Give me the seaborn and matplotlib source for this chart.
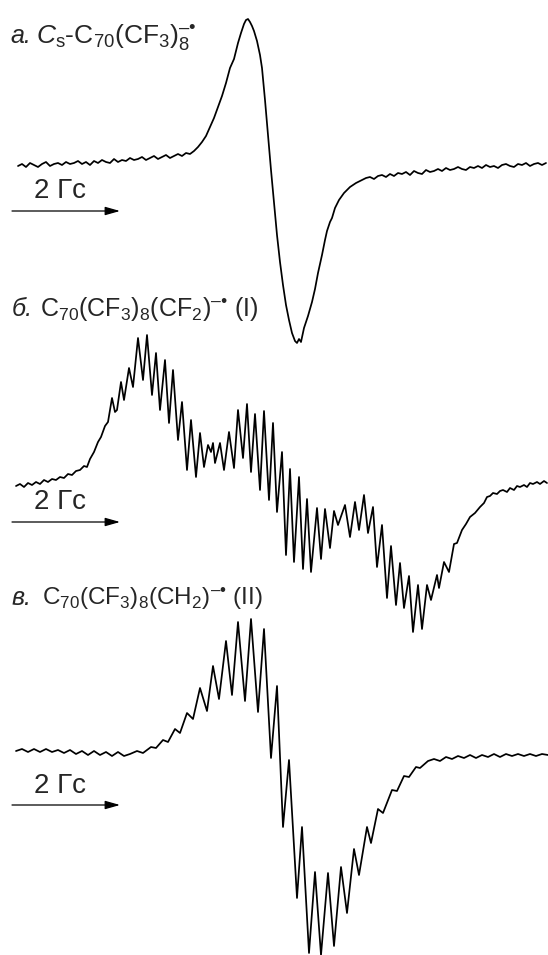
import numpy as np
import matplotlib
matplotlib.use("Agg")
import matplotlib.pyplot as plt
import seaborn as sns

# EPR spectra: sweep channel and signal (arb. units)
# scale bar: 108 channels = 2 G
a_chan = [18, 22, 26, 30, 34, 38, 42, 46, 50, 54, 58, 62, 66, 70, 74, 78, 82, 86, 90, 94,
          98, 102, 106, 110, 114, 118, 122, 126, 130, 134, 138, 142, 146, 150, 154, 158, 162,
          166, 170, 174, 178, 182, 186, 190, 194,
          198, 202, 206, 210, 214, 218, 222, 226, 230, 234, 238, 241, 244, 246, 248, 250, 252,
          254, 257, 260, 262, 265, 268, 271, 274, 277, 280, 283, 286, 289, 292, 295, 297, 299,
          301, 304, 308, 312, 315, 318, 322, 325, 327, 330, 332, 335, 339, 344, 350, 356, 362,
          366, 370, 374, 378, 382, 386, 390, 394, 398, 402, 406, 410, 414, 418, 422, 426, 430,
          434, 438, 442, 446, 450, 454, 458, 462, 466, 470, 474, 478, 482, 486, 490, 494, 498,
          502, 506, 510, 514, 518, 522, 526, 530, 534, 538, 542, 546]
a_sig = [-1, 1, -2, 2, 0, -2, 1, 3, -1, 1, 2, 0, 3, 1, 2, 4, 1, 3, 0, 4,
         2, 5, 3, 2, 6, 3, 5, 4, 7, 5, 6, 8, 5, 7, 9, 6, 8,
         10, 7, 9, 11, 9, 12, 11, 14,
         18, 23, 29, 38, 47, 58, 69, 82, 97, 106, 122, 132, 141, 145, 146, 143, 139,
         134, 124, 110, 97, 65, 30, -5, -38, -70, -97, -120, -140, -155, -168, -176, -178, -174,
         -177, -163, -151, -137, -124, -108, -90, -75, -66, -57, -53, -43, -35, -28, -22, -18, -15,
         -13, -12, -14, -11, -10, -12, -9, -11, -8, -9, -7, -10, -6, -8, -9, -5, -7,
         -6, -4, -6, -3, -5, -4, -2, -4, -5, -2, -3, -1, -3, 0, -2, -1, -3,
         0, 1, -1, -2, 1, 0, 2, -1, 1, 2, 0, 2]

b_chan = [16, 20, 24, 28, 32, 36, 40, 44, 48, 52, 56, 60, 64, 68, 72, 76, 80, 84, 87, 90,
          94, 98, 101, 105, 108, 112, 115, 117, 121, 124, 129, 133, 138, 143, 147, 152, 156,
          160, 165, 169, 173, 178, 182, 187, 191, 196, 200, 204, 208, 211, 213, 215, 220, 224,
          229, 234, 238, 243, 247, 251, 255, 260, 264, 269, 273, 277, 282, 286, 290, 294, 299,
          303, 307, 311, 317, 321, 325, 330, 334, 338, 345, 350, 355, 359, 364, 368, 373, 377,
          382, 387, 391, 396, 400, 404, 409, 413, 418, 422, 427, 431, 437, 439, 444, 449, 454,
          457, 462, 466, 470, 475, 480, 484, 487, 490, 493, 497, 500, 503, 507, 510, 514, 517,
          520, 524, 527, 530, 533, 537, 540, 544, 547]
b_sig = [0, 2, -1, 3, 1, 4, 2, 6, 4, 7, 6, 9, 8, 12, 11, 15, 16, 20, 19, 27,
         34, 44, 49, 60, 64, 88, 74, 76, 104, 86, 118, 99, 148, 106, 151, 91, 133,
         76, 126, 63, 116, 46, 84, 16, 66, 9, 53, 19, 41, 34, 43, 23, 43, 16,
         54, 18, 76, 28, 82, 14, 72, -4, 75, -14, 63, -26, 34, -69, 17, -76, 9,
         -83, -13, -86, -22, -73, -23, -62, -25, -39, -19, -51, -16, -44, -9, -47, -21, -81,
         -39, -112, -60, -119, -77, -122, -90, -146, -99, -143, -99, -114, -89, -102, -76, -86, -58,
         -57, -44, -38, -31, -27, -21, -17, -11, -10, -7, -8, -5, -4, -6, -2, -4, 0,
         -1, 1, -1, 3, 2, 4, 2, 5, 3]

c_chan = [16, 22, 28, 34, 40, 46, 52, 58, 64, 70, 76, 82, 88, 94, 100, 106, 112, 118, 124, 130,
          137, 143, 151, 156, 163, 168, 175, 180, 187, 193, 200, 207, 213, 219, 226, 232, 238,
          245, 251, 258, 264, 271, 277, 283, 289, 297, 302, 309, 315, 321, 328, 334, 341, 347,
          354, 359, 367, 371, 378, 383, 392, 397, 404, 409, 416, 420, 428, 434, 440, 446, 452,
          458, 464, 470, 476, 482, 488, 494, 500, 506, 512, 518, 524, 530, 536, 542, 548]
c_sig = [1, 3, 0, 3, 0, 3, 0, 2, -1, 2, -2, 1, -3, 1, -3, 0, -4, 0, -4, -2,
         1, -1, 5, 4, 12, 10, 23, 19, 39, 33, 64, 41, 86, 53, 111, 57, 130,
         51, 133, 40, 123, -6, 66, -75, -8, -146, -75, -201, -120, -203, -121, -194, -115, -161,
         -97, -123, -75, -91, -57, -61, -38, -39, -24, -25, -15, -16, -9, -7, -9, -5, -7,
         -4, -6, -3, -6, -3, -5, -2, -5, -2, -4, -2, -4, -2, -4, -2, -3]

panel_letters = ["а.", "б.", "в."]
panel_titles = [r"$\mathit{C}_{\mathrm{s}}$-C$_{70}$(CF$_3$)$_8^{–•}$",
                r"C$_{70}$(CF$_3$)$_8$(CF$_2$)$^{–•}$ (I)",
                r"C$_{70}$(CF$_3$)$_8$(CH$_2$)$^{–•}$ (II)"]
scale_label = "2 Гс"
SCALE_G = 2
GAUSS_PER_CHAN = 2 / 108
CHAN0 = 12


def to_gauss(ch):
    return (np.asarray(ch, dtype=float) - CHAN0) * GAUSS_PER_CHAN


sns.set_style("white")
plt.rcParams["font.family"] = ["Liberation Sans", "DejaVu Sans"]
plt.rcParams["mathtext.fontset"] = "custom"
plt.rcParams["mathtext.rm"] = "Liberation Sans"
plt.rcParams["mathtext.it"] = "Liberation Sans:italic"
plt.rcParams["mathtext.bf"] = "Liberation Sans:bold"

W, H = 548, 955
fig = plt.figure(figsize=(W / 100, H / 100), dpi=100)

# (top px, bottom px, baseline px) bands for each spectrum
bands = [(0, 350, 165), (290, 645, 486), (570, 955, 752)]
spectra = [(a_chan, a_sig), (b_chan, b_sig), (c_chan, c_sig)]
title_pos = [(10, 36, 43), (12, 40, 316), (12, 42, 605)]
title_size = [19, 18, 17.5]
bar_sig = [(-46, -33), (-36, -23), (-53, -41)]

for i, ((top, bot, base), (ch, sig)) in enumerate(zip(bands, spectra)):
    ax = fig.add_axes([0, 1 - bot / H, 1, (bot - top) / H])
    ax.patch.set_alpha(0)
    sns.lineplot(x=to_gauss(ch), y=np.asarray(sig), ax=ax, color="black",
                 lw=1.25, sort=False, estimator=None, clip_on=False,
                 solid_joinstyle="round")
    ax.set_xlim(to_gauss(0), to_gauss(W))
    ax.set_ylim(base - bot, base - top)
    ax.axis("off")

    # 2 G scale arrow
    y_arrow, y_text = bar_sig[i]
    ax.annotate("", xy=(SCALE_G, y_arrow), xytext=(0, y_arrow),
                arrowprops=dict(arrowstyle="-|>,head_length=0.6,head_width=0.17",
                                color="black", lw=0.9, mutation_scale=15,
                                shrinkA=0, shrinkB=0))
    ax.text(0.4, y_text, scale_label, fontsize=20, ha="left", va="baseline")

    lx, tx, ty = title_pos[i]
    fig.text(lx / W, 1 - ty / H, panel_letters[i], fontsize=18, style="italic",
             ha="left", va="baseline")
    fig.text(tx / W, 1 - ty / H, panel_titles[i], fontsize=title_size[i],
             ha="left", va="baseline")

fig.savefig("out.png", dpi=100)
